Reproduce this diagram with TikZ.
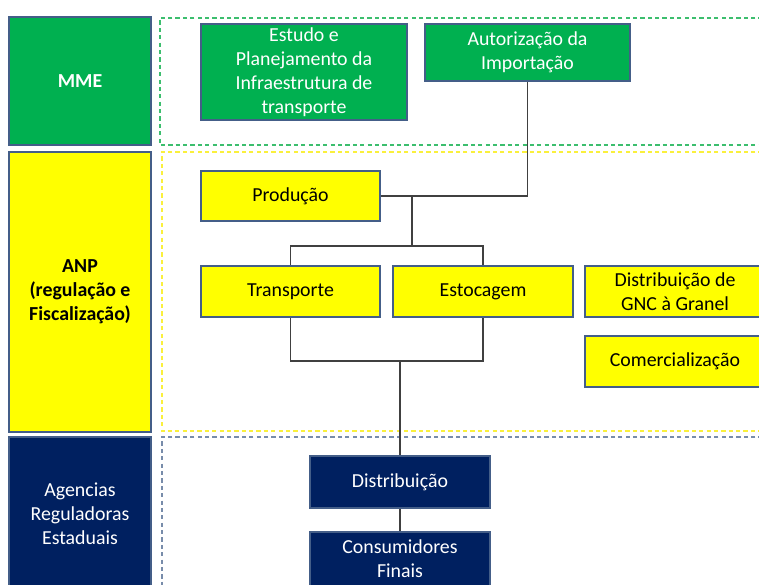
\documentclass[tikz,border=0pt]{standalone}
\usepackage{fontspec}
\setmainfont{Carlito}
\definecolor{mmegreen}{RGB}{0,176,80}
\definecolor{anpyellow}{RGB}{255,255,0}
\definecolor{arenavy}{RGB}{0,32,96}
\definecolor{boxline}{RGB}{68,94,136}
\definecolor{greendash}{RGB}{60,190,110}
\definecolor{yellowdash}{RGB}{250,240,60}
\definecolor{navydash}{RGB}{120,140,170}
\tikzset{
    box/.style={draw=boxline, line width=0.9pt, align=center, inner sep=0pt,
        font=\fontsize{11.3}{13.6}\selectfont},
    mmebox/.style={box, fill=mmegreen, text=white},
    anpbox/.style={box, fill=anpyellow, text=black},
    arebox/.style={box, fill=arenavy, text=white},
    zone/.style={line width=0.8pt, dash pattern=on 2.4pt off 1.8pt},
    link/.style={draw=black!75, line width=0.8pt}
}
\begin{document}
\begin{tikzpicture}[x=0.02cm, y=-0.02cm]
    \useasboundingbox (0, 0) rectangle (759, 584);
    \clip (0, 0) rectangle (759, 584);
    % faixas tracejadas
    \draw [zone, draw=greendash] (770, 18) -- (160, 18) -- (160, 145) -- (770, 145);
    \draw [zone, draw=yellowdash] (770, 152) -- (162, 152) -- (162, 431) -- (770, 431);
    \draw [zone, draw=navydash] (770, 437) -- (162, 437) -- (162, 600);
    % orgaos
    \node [mmebox, minimum width=142*0.02cm, minimum height=128*0.02cm, font=\fontsize{11.3}{13.6}\selectfont\bfseries] (mme) at (80, 81) {MME};
    \node [anpbox, minimum width=142*0.02cm, minimum height=280*0.02cm, font=\fontsize{11.3}{13.6}\selectfont\bfseries] (anp) at (80, 292) {ANP\\(regula\c{c}\~ao e\\Fiscaliza\c{c}\~ao)};
    \node [arebox, minimum width=142*0.02cm, minimum height=154*0.02cm] (are) at (80, 514) {Agencias\\Reguladoras\\Estaduais};
    % MME
    \node [mmebox, minimum width=206*0.02cm, minimum height=96*0.02cm] (estudo) at (304, 72) {Estudo e\\Planejamento da\\Infraestrutura de\\transporte};
    \node [mmebox, minimum width=205*0.02cm, minimum height=57*0.02cm] (importacao) at (527.5, 52.5) {Autoriza\c{c}\~ao da\\Importa\c{c}\~ao};
    % ANP
    \node [anpbox, minimum width=179*0.02cm, minimum height=50*0.02cm] (producao) at (290.5, 196) {Produ\c{c}\~ao};
    \node [anpbox, minimum width=179*0.02cm, minimum height=51*0.02cm] (transporte) at (290.5, 291.5) {Transporte};
    \node [anpbox, minimum width=180*0.02cm, minimum height=51*0.02cm] (estocagem) at (483, 291.5) {Estocagem};
    \node [anpbox, minimum width=180*0.02cm, minimum height=51*0.02cm] (gnc) at (675, 291.5) {Distribui\c{c}\~ao de\\GNC \`a Granel};
    \node [anpbox, minimum width=180*0.02cm, minimum height=51*0.02cm] (comercial) at (675, 361.5) {Comercializa\c{c}\~ao};
    % agencias estaduais
    \node [arebox, minimum width=180*0.02cm, minimum height=52*0.02cm] (distribuicao) at (400, 482) {Distribui\c{c}\~ao};
    \node [arebox, minimum width=180*0.02cm, minimum height=54*0.02cm] (consumidores) at (400, 559) {Consumidores\\Finais};
    % ligacoes
    \coordinate (j1) at (412, 196);
    \coordinate (j2) at (412, 246);
    \coordinate (j3) at (400, 361);
    \draw [link] (producao.east) -- (producao.east -| importacao.south) -- (importacao.south);
    \draw [link] (j1) -- (j2);
    \draw [link] (transporte.north) -- (transporte.north |- j2) -- (estocagem.north |- j2) -- (estocagem.north);
    \draw [link] (transporte.south) -- (transporte.south |- j3) -- (estocagem.south |- j3) -- (estocagem.south);
    \draw [link] (j3) -- (distribuicao.north);
    \draw [link] (distribuicao.south) -- (consumidores.north);
\end{tikzpicture}
\end{document}
